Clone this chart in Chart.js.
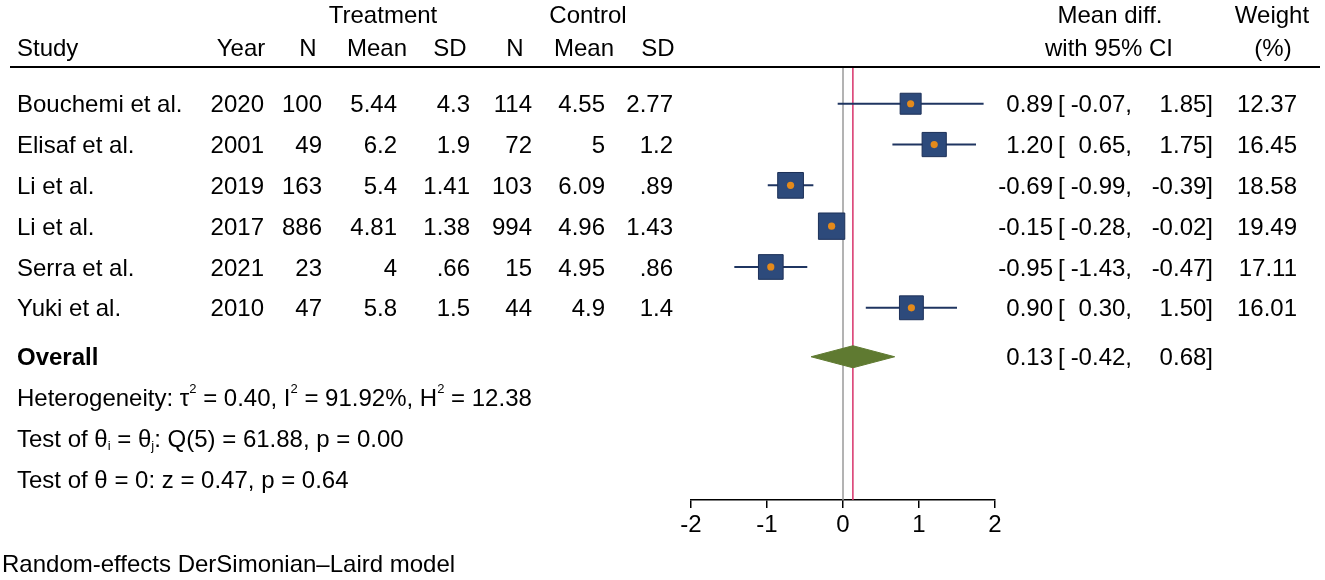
<!DOCTYPE html>
<html>
<head>
<meta charset="utf-8">
<title>Forest plot</title>
<script src="https://cdn.jsdelivr.net/npm/chart.js@4.4.0/dist/chart.umd.min.js"></script>
<style>
    html, body { margin: 0; padding: 0; background: #fff; }
    #wrap { width: 1325px; height: 580px; position: relative; }
</style>
</head>
<body>
<div id="wrap"><canvas id="forest"></canvas></div>
<script>
// Study table
const studies = ['Bouchemi et al.', 'Elisaf et al.', 'Li et al.', 'Li et al.', 'Serra et al.', 'Yuki et al.'];
const years = ['2020', '2001', '2019', '2017', '2021', '2010'];
const treatN = ['100', '49', '163', '886', '23', '47'];
const treatMean = ['5.44', '6.2', '5.4', '4.81', '4', '5.8'];
const treatSD = ['4.3', '1.9', '1.41', '1.38', '.66', '1.5'];
const ctrlN = ['114', '72', '103', '994', '15', '44'];
const ctrlMean = ['4.55', '5', '6.09', '4.96', '4.95', '4.9'];
const ctrlSD = ['2.77', '1.2', '.89', '1.43', '.86', '1.4'];

// Effect sizes
const meanDiff = [0.89, 1.20, -0.69, -0.15, -0.95, 0.90];
const ciLow = [-0.07, 0.65, -0.99, -0.28, -1.43, 0.30];
const ciHigh = [1.85, 1.75, -0.39, -0.02, -0.47, 1.50];
const weights = [12.37, 16.45, 18.58, 19.49, 17.11, 16.01];

// Pooled estimate
const overall = 0.13;
const overallLow = -0.42;
const overallHigh = 0.68;

// Axis ticks
const xTicks = [-2, -1, 0, 1, 2];

// Row positions on the (hidden) y scale
const overallRow = 6.2;
const statRows = [7.2, 8.2, 9.2];

const FAMILY = '"Liberation Sans", Arial, Helvetica, sans-serif';
const FS = 24;
const FONT = FS + 'px ' + FAMILY;

function fmt(v) {
    return v.toFixed(2);
}

// CI lines, one dataset per study
const ciSets = studies.map(function (s, i) {
    return {
        type: 'scatter',
        data: [{ x: ciLow[i], y: i }, { x: ciHigh[i], y: i }],
        showLine: true,
        borderColor: '#1f3561',
        borderWidth: 2,
        pointRadius: 0,
        order: 3
    };
});

const points = meanDiff.map(function (m, i) { return { x: m, y: i }; });

const datasets = [
    {
        // orange dot at the estimate
        type: 'scatter',
        data: points,
        pointStyle: 'circle',
        pointRadius: 3.6,
        backgroundColor: '#e48a1b',
        borderWidth: 0,
        order: 0
    },
    {
        // weight squares
        type: 'scatter',
        data: points,
        pointStyle: 'rect',
        pointRadius: weights.map(function (w) { return 4.22 * Math.sqrt(w); }),
        backgroundColor: '#2d4a7b',
        borderColor: '#1c3058',
        borderWidth: 1,
        order: 1
    },
    {
        // pooled diamond
        type: 'scatter',
        data: [
            { x: overallLow, y: overallRow },
            { x: overall, y: overallRow - 0.27 },
            { x: overallHigh, y: overallRow },
            { x: overall, y: overallRow + 0.27 },
            { x: overallLow, y: overallRow }
        ],
        showLine: true,
        fill: 'shape',
        backgroundColor: '#5f7a31',
        borderColor: '#5f7a31',
        borderWidth: 1,
        pointRadius: 0,
        order: 2
    },
    {
        // no-effect line
        type: 'scatter',
        data: [{ x: 0, y: -0.9 }, { x: 0, y: 9.71 }],
        showLine: true,
        borderColor: '#9a9a9a',
        borderWidth: 1.5,
        pointRadius: 0,
        order: 5
    },
    {
        // overall effect line
        type: 'scatter',
        data: [{ x: overall, y: -0.9 }, { x: overall, y: 9.71 }],
        showLine: true,
        borderColor: '#d8336b',
        borderWidth: 1.5,
        pointRadius: 0,
        order: 4
    }
].concat(ciSets);

// text with super/subscripts: parts = [[text, 'n'|'sup'|'sub'], ...]
function richText(ctx, parts, x, y) {
    ctx.textAlign = 'left';
    parts.forEach(function (p) {
        let dy = 0;
        if (p[1] === 'sup') {
            ctx.font = '13px ' + FAMILY;
            dy = -10;
        } else if (p[1] === 'sub') {
            ctx.font = '13px ' + FAMILY;
            dy = 6;
        } else {
            ctx.font = FONT;
        }
        ctx.fillText(p[0], x, y + dy);
        x += ctx.measureText(p[0]).width;
    });
}

const tablePlugin = {
    id: 'tableText',
    afterDraw: function (chart) {
        const ctx = chart.ctx;
        const yScale = chart.scales.y;
        const rowY = function (r) { return yScale.getPixelForValue(r) + 2; };

        ctx.save();
        ctx.fillStyle = '#000';
        ctx.textBaseline = 'middle';
        ctx.font = FONT;

        // header
        ctx.textAlign = 'center';
        ctx.fillText('Treatment', 383, 16);
        ctx.fillText('Control', 588, 16);
        ctx.fillText('Mean diff.', 1110, 16);
        ctx.fillText('Weight', 1272, 16);
        ctx.fillText('with 95% CI', 1109, 49);
        ctx.fillText('(%)', 1273, 49);
        ctx.fillText('Year', 241, 49);
        ctx.fillText('N', 308, 49);
        ctx.fillText('Mean', 377, 49);
        ctx.fillText('SD', 450, 49);
        ctx.fillText('N', 515, 49);
        ctx.fillText('Mean', 584, 49);
        ctx.fillText('SD', 658, 49);
        ctx.textAlign = 'left';
        ctx.fillText('Study', 17, 49);

        // header rule
        ctx.strokeStyle = '#000';
        ctx.lineWidth = 2;
        ctx.beginPath();
        ctx.moveTo(10, 67);
        ctx.lineTo(1320, 67);
        ctx.stroke();

        // study rows
        const cols = [
            [years, 264], [treatN, 322], [treatMean, 397], [treatSD, 470],
            [ctrlN, 532], [ctrlMean, 605], [ctrlSD, 673]
        ];
        studies.forEach(function (s, i) {
            const y = rowY(i);
            ctx.font = FONT;
            ctx.textAlign = 'left';
            ctx.fillText(s, 17, y);
            ctx.textAlign = 'right';
            cols.forEach(function (c) { ctx.fillText(c[0][i], c[1], y); });
            ctx.fillText(fmt(meanDiff[i]), 1053, y);
            ctx.textAlign = 'left';
            ctx.fillText('[', 1058, y);
            ctx.textAlign = 'right';
            ctx.fillText(fmt(ciLow[i]) + ',', 1132, y);
            ctx.fillText(fmt(ciHigh[i]) + ']', 1213, y);
            ctx.fillText(fmt(weights[i]), 1297, y);
        });

        // overall row
        const oy = rowY(overallRow);
        ctx.font = 'bold ' + FONT;
        ctx.textAlign = 'left';
        ctx.fillText('Overall', 17, oy);
        ctx.font = FONT;
        ctx.textAlign = 'right';
        ctx.fillText(fmt(overall), 1053, oy);
        ctx.textAlign = 'left';
        ctx.fillText('[', 1058, oy);
        ctx.textAlign = 'right';
        ctx.fillText(fmt(overallLow) + ',', 1132, oy);
        ctx.fillText(fmt(overallHigh) + ']', 1213, oy);

        // heterogeneity statistics
        richText(ctx, [['Heterogeneity: \u03c4', 'n'], ['2', 'sup'], [' = 0.40, I', 'n'], ['2', 'sup'],
            [' = 91.92%, H', 'n'], ['2', 'sup'], [' = 12.38', 'n']], 17, rowY(statRows[0]));
        richText(ctx, [['Test of \u03b8', 'n'], ['i', 'sub'], [' = \u03b8', 'n'], ['j', 'sub'],
            [': Q(5) = 61.88, p = 0.00', 'n']], 17, rowY(statRows[1]));
        richText(ctx, [['Test of \u03b8 = 0: z = 0.47, p = 0.64', 'n']], 17, rowY(statRows[2]));

        // note
        ctx.font = FONT;
        ctx.textAlign = 'left';
        ctx.fillText('Random-effects DerSimonian\u2013Laird model', 2, 565);
        ctx.restore();
    }
};

new Chart(document.getElementById('forest'), {
    type: 'scatter',
    data: { datasets: datasets },
    options: {
        responsive: true,
        maintainAspectRatio: false,
        animation: false,
        layout: { padding: { left: 691, right: 330, top: 67, bottom: 30 } },
        plugins: {
            legend: { display: false },
            tooltip: { enabled: false }
        },
        scales: {
            x: {
                type: 'linear',
                min: -2,
                max: 2,
                afterBuildTicks: function (scale) {
                    scale.ticks = xTicks.map(function (v) { return { value: v }; });
                },
                afterFit: function (scale) { scale.height = 50; },
                ticks: {
                    font: { family: FAMILY, size: FS },
                    color: '#000',
                    padding: 3
                },
                grid: {
                    drawOnChartArea: false,
                    drawTicks: true,
                    tickLength: 8,
                    color: '#000',
                    lineWidth: 1.5
                },
                border: { display: true, color: '#000', width: 1.5 }
            },
            y: {
                type: 'linear',
                reverse: true,
                min: -0.9,
                max: 9.71,
                display: false
            }
        }
    },
    plugins: [tablePlugin]
});
</script>
</body>
</html>
